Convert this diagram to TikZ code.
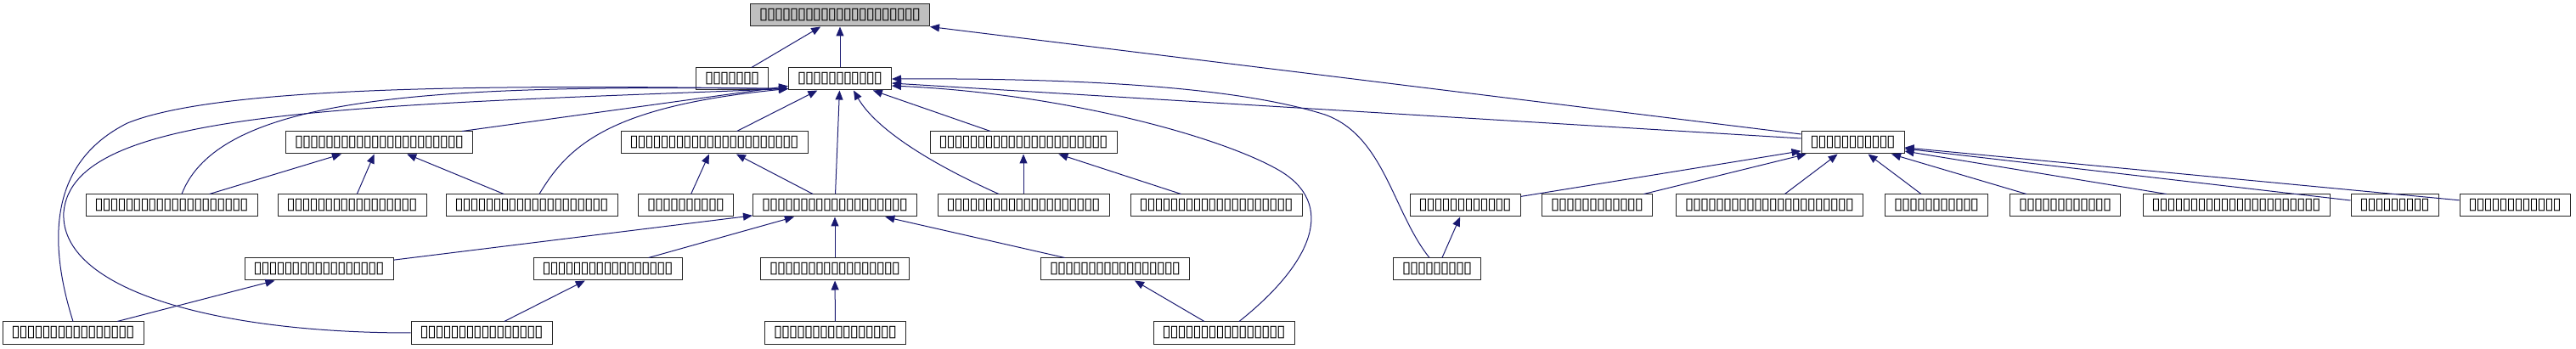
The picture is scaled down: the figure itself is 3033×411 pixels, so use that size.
\documentclass[tikz,border=0pt]{standalone}
\usepackage{fontspec}
\newfontfamily\tofufont{DejaVu Sans}
\usepackage{tikz}
\usetikzlibrary{arrows.meta}
\definecolor{navy}{HTML}{191970}
\newcommand\tofu[1]{\foreach \k in {1,...,#1}{\makebox[9pt]{▯}}}

\begin{document}
\begin{tikzpicture}[
  x=1pt, y=-1pt,
  cls/.style={rectangle,draw=black!85,fill=white,line width=1pt,minimum height=26pt,
    inner xsep=11pt,inner ysep=0pt,font=\tofufont\fontsize{19}{19}\selectfont},
  inh/.style={draw=navy,line width=1pt,-{Triangle[length=11pt,width=9pt]}}
]
\useasboundingbox (0,0) rectangle (3033,411);

% top two levels
\node[cls,fill=gray!50] (root) at (989,18) {\tofu{21}};
\node[cls] (side) at (862,93)  {\tofu{7}};
\node[cls] (core) at (989,93)  {\tofu{11}};

\node[cls] (ga) at (446.5,168)  {\tofu{22}};
\node[cls] (gb) at (841,168)    {\tofu{22}};
\node[cls] (gc) at (1205,168)   {\tofu{22}};
\node[cls] (gd) at (2181.5,168) {\tofu{11}};

% third level
\node[cls] (la) at (202,242)    {\tofu{20}};
\node[cls] (lb) at (414.5,242)  {\tofu{17}};
\node[cls] (lc) at (626,242)    {\tofu{20}};
\node[cls] (ld) at (807.5,242)  {\tofu{10}};
\node[cls] (le) at (983,242)    {\tofu{19}};
\node[cls] (lf) at (1205,242)   {\tofu{20}};
\node[cls] (lg) at (1432,242)   {\tofu{20}};
\node[cls] (lh) at (1725,242)   {\tofu{12}};
\node[cls] (li) at (1880.5,242) {\tofu{12}};
\node[cls] (lj) at (2083.5,242) {\tofu{22}};
\node[cls] (lk) at (2280,242)   {\tofu{11}};
\node[cls] (ll) at (2431.5,242) {\tofu{12}};
\node[cls] (lm) at (2633,242)   {\tofu{22}};
\node[cls] (ln) at (2819.5,242) {\tofu{9}};
\node[cls] (lo) at (2961,242)   {\tofu{12}};

% lower levels
\node[cls] (ma) at (375.5,317) {\tofu{17}};
\node[cls] (mb) at (715.5,317) {\tofu{17}};
\node[cls] (mc) at (983,317)   {\tofu{17}};
\node[cls] (md) at (1313,317)  {\tofu{17}};
\node[cls] (me) at (1692,317)  {\tofu{9}};

\node[cls] (pa) at (86,392)    {\tofu{16}};
\node[cls] (pb) at (567,392)   {\tofu{16}};
\node[cls] (pc) at (983.5,392) {\tofu{16}};
\node[cls] (pd) at (1441,392)  {\tofu{16}};

% inheritance
\draw[inh] (side) -- (root);
\draw[inh] (core) -- (root);
\draw[inh] ([yshift=10pt]gd.west) -- (root.south east);

\foreach \c in {ga,gb,gc,le} \draw[inh] (\c) -- (core);
\draw[inh] ([yshift=5pt]gd.west) -- ([yshift=-5pt]core.east);
\draw[inh] ([xshift=12pt]la.north) .. controls (260,110) and (520,100) .. ([yshift=2pt]core.south west);
\draw[inh] (pa.north) .. controls (55,280) and (60,190) .. (150,145)
  .. controls (260,100) and (600,100) .. ([yshift=2pt]core.south west);
\draw[inh] (pb.west) .. controls (250,392) and (70,340) .. (75,250)
  .. controls (85,130) and (400,125) .. ([yshift=2pt]core.south west);
\draw[inh] ([xshift=9pt]lc.north) .. controls (670,170) and (720,125) .. ([yshift=2pt]core.south west);
\draw[inh] ([xshift=-29pt]lf.north) .. controls (1090,190) and (1030,150) .. ([xshift=16pt]core.south);
\draw[inh] ([xshift=18pt]pd.north) .. controls (1545,310) and (1575,240) .. (1505,200)
  .. controls (1435,160) and (1250,110) .. ([yshift=-8pt]core.east);
\draw[inh] ([xshift=-9pt]me.north) .. controls (1640,250) and (1630,160) .. (1560,135)
  .. controls (1450,100) and (1250,92) .. (core.east);

\foreach \c in {la,lb,lc} \draw[inh] (\c) -- (ga);
\foreach \c in {ld,le} \draw[inh] (\c) -- (gb);
\foreach \c in {lf,lg} \draw[inh] (\c) -- (gc);
\foreach \c in {lh,li,lj,lk,ll,lm,ln,lo} \draw[inh] (\c) -- (gd);
\foreach \c in {ma,mb,mc,md} \draw[inh] (\c) -- (le);

\draw[inh] (pa) -- (ma);
\draw[inh] (pb) -- (mb);
\draw[inh] (pc) -- (mc);
\draw[inh] (pd) -- (md);
\draw[inh] (me) -- (lh);
\end{tikzpicture}
\end{document}
